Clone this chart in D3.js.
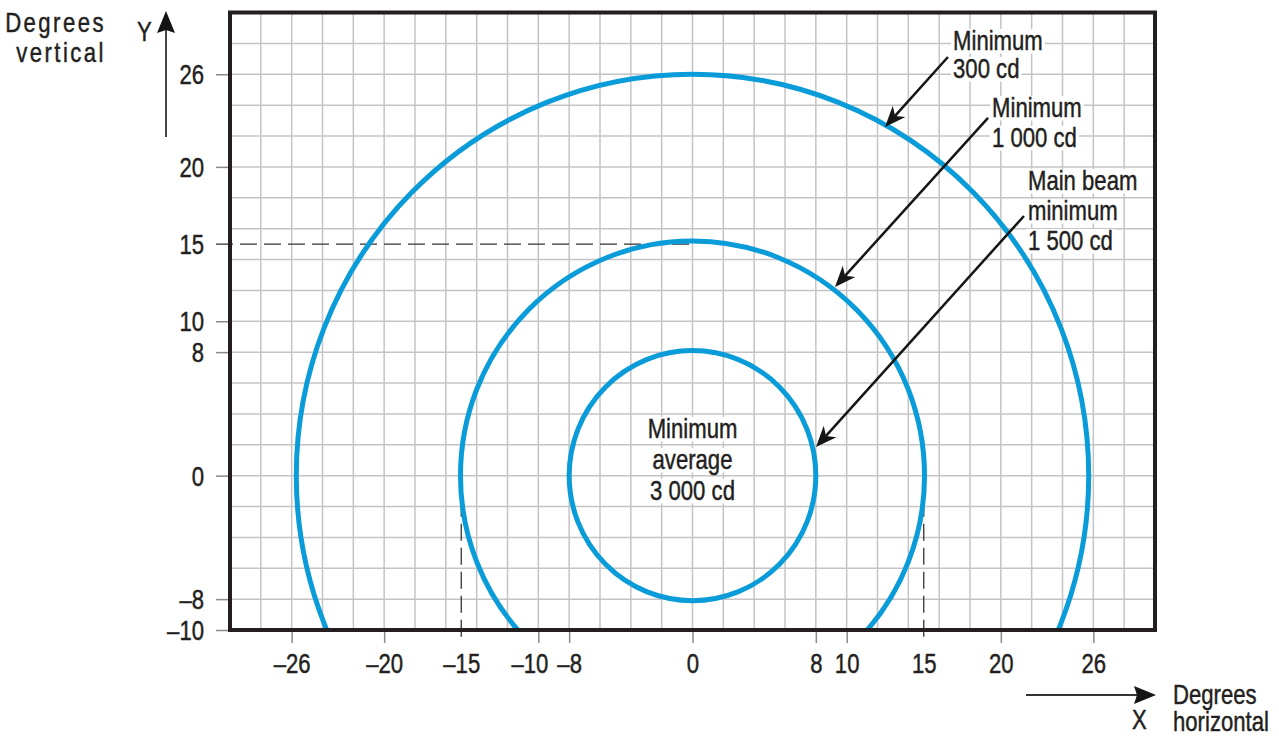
<!DOCTYPE html>
<html>
<head>
<meta charset="utf-8">
<script src="https://cdn.jsdelivr.net/npm/d3@7"></script>
<style>
  html, body { margin: 0; padding: 0; background: #fff; }
  svg { display: block; }
  text { font-family: "Liberation Sans", Arial, sans-serif; fill: #231f20; stroke: #231f20; stroke-width: 0.45px; }
</style>
</head>
<body>
<script>
// ---------- data ----------
const xDomain = [-30, 30];
const yDomain = [-10, 30];
const gridStep = 2;
const xTickValues = [-26, -20, -15, -10, -8, 0, 8, 10, 15, 20, 26];
const yTickValues = [26, 20, 15, 10, 8, 0, -8, -10];
const ringNames = ["Minimum 300 cd", "Minimum 1 000 cd", "Main beam minimum 1 500 cd"];
const ringRx = [25.7, 15.05, 8.0];   // horizontal half-width (degrees)
const ringRy = [26, 15.2, 8.1];      // vertical half-height (degrees)
const refLevel = 15;                 // dashed reference lines

const labelLines = [
  ["Minimum", "300 cd"],
  ["Minimum", "1 000 cd"],
  ["Main beam", "minimum", "1 500 cd"]
];
const labelAnchorX = [16.9, 19.43, 21.76];
const labelAnchorY = [27.57, 23.23, 18.5];
const arrowFromX = [16.57, 19.17, 21.5];
const arrowFromY = [27.12, 23.17, 16.82];
const arrowToX = [12.49, 9.24, 8.01];
const arrowToY = [22.58, 12.22, 1.85];
const centerLines = ["Minimum", "average", "3 000 cd"];
const centerAnchor = [0, 2.44];

// ---------- layout ----------
const W = 1279, H = 738;
const SX = 0.82;     // horizontal condensing of the sans font
const FS = 27;
const svg = d3.select("body").append("svg").attr("width", W).attr("height", H);

const x = d3.scaleLinear().domain(xDomain).range([230, 1155]);
const y = d3.scaleLinear().domain(yDomain).range([630, 12.5]);

const blue = "#0a9bd9";
const ink = "#231f20";
const gridCol = "#c4c4c6";

function ctext(parent, str, px, py, anchor, opts = {}) {
  const g = parent.append("g").attr("transform", `translate(${px},${py}) scale(${SX},1)`);
  const t = g.append("text").attr("x", 0).attr("y", 0).attr("font-size", FS)
    .attr("text-anchor", anchor || "start").text(str);
  if (opts.ls) t.attr("letter-spacing", opts.ls);
  if (opts.bg) {
    const bb = t.node().getBBox();
    g.insert("rect", "text").attr("x", bb.x - 2 / SX).attr("y", bb.y + 3)
      .attr("width", bb.width + 4 / SX).attr("height", bb.height - 5).attr("fill", "#fff");
  }
  return t;
}
function condenseTicks(sel, shift) {
  sel.each(function (d) {
    const t = d3.select(this);
    const tx = (+t.attr("x") || 0) + (shift ? shift(d) : 0), ty = +t.attr("y") || 0;
    t.attr("x", 0).attr("y", 0).attr("transform", `translate(${tx},${ty}) scale(${SX},1)`);
  });
}

// clip
svg.append("defs").append("clipPath").attr("id", "plotclip")
  .append("rect").attr("x", x(-30)).attr("y", y(30)).attr("width", x(30) - x(-30)).attr("height", y(-10) - y(30));

// grid
const gx = d3.range(xDomain[0] + gridStep, xDomain[1], gridStep);
const gy = d3.range(yDomain[0] + gridStep, yDomain[1], gridStep);
const grid = svg.append("g");
grid.selectAll(".vg").data(gx).join("line")
  .attr("x1", d => x(d)).attr("x2", d => x(d)).attr("y1", y(30)).attr("y2", y(-10))
  .attr("stroke", gridCol).attr("stroke-width", 1.5);
grid.selectAll(".hg").data(gy).join("line")
  .attr("y1", d => y(d)).attr("y2", d => y(d)).attr("x1", x(-30)).attr("x2", x(30))
  .attr("stroke", gridCol).attr("stroke-width", 1.5);

const fmt = d => d < 0 ? "\u2013" + Math.abs(d) : String(d);

// y axis
const yAxis = d3.axisLeft(y).tickValues(yTickValues).tickSize(14).tickPadding(12).tickFormat(fmt);
const yg = svg.append("g").attr("transform", `translate(${x(-30)},0)`).call(yAxis);
yg.select(".domain").remove();
yg.selectAll(".tick line").attr("stroke", "#8a8a8a").attr("stroke-width", 1.5)
  .attr("stroke-opacity", d => d === refLevel ? 0 : 1);
yg.selectAll(".tick text").attr("font-size", FS).attr("fill", ink)
  .style("font-family", '"Liberation Sans", Arial, sans-serif').attr("dy", "0.36em");
condenseTicks(yg.selectAll(".tick text"));

// x axis
const xAxis = d3.axisBottom(x).tickValues(xTickValues).tickSize(13).tickPadding(8).tickFormat(fmt);
const xg = svg.append("g").attr("transform", `translate(0,${y(-10)})`).call(xAxis);
xg.select(".domain").remove();
xg.selectAll(".tick line").attr("stroke", "#8a8a8a").attr("stroke-width", 1.5)
  .attr("stroke-opacity", d => Math.abs(d) === refLevel ? 0 : 1);
xg.selectAll(".tick text").attr("font-size", FS).attr("fill", ink)
  .style("font-family", '"Liberation Sans", Arial, sans-serif').attr("dy", "0.83em");
condenseTicks(xg.selectAll(".tick text"), d => d === -10 ? -9 : 0);

// dashed reference lines
const dash = svg.append("g").attr("stroke", "#333").attr("stroke-width", 1.3).attr("stroke-dasharray", "17,7").attr("fill", "none");
dash.append("line").attr("x1", x(-30) - 14).attr("x2", x(0)).attr("y1", y(refLevel)).attr("y2", y(refLevel));
[-refLevel, refLevel].forEach(v => {
  dash.append("line").attr("x1", x(v)).attr("x2", x(v)).attr("y1", y(0)).attr("y2", y(-10) + 13);
});

// rings
const rings = svg.append("g").attr("clip-path", "url(#plotclip)");
rings.selectAll("ellipse").data(ringNames).join("ellipse")
  .attr("cx", x(0)).attr("cy", y(0))
  .attr("rx", (d, i) => x(ringRx[i]) - x(0))
  .attr("ry", (d, i) => y(0) - y(ringRy[i]))
  .attr("fill", "none").attr("stroke", blue).attr("stroke-width", 5);

// frame
svg.append("rect").attr("x", x(-30)).attr("y", y(30)).attr("width", x(30) - x(-30)).attr("height", y(-10) - y(30))
  .attr("fill", "none").attr("stroke", ink).attr("stroke-width", 4);

function arrow(g, x1, y1, x2, y2) {
  const ang = Math.atan2(y2 - y1, x2 - x1);
  const L = 21, hw = 8.5, notch = 6;
  const bx = x2 - L * Math.cos(ang), by = y2 - L * Math.sin(ang);
  const nx = x2 - (L - notch) * Math.cos(ang), ny = y2 - (L - notch) * Math.sin(ang);
  const px = -Math.sin(ang), py = Math.cos(ang);
  g.append("line").attr("x1", x1).attr("y1", y1).attr("x2", nx).attr("y2", ny)
    .attr("stroke", "#151515").attr("stroke-width", 2.5);
  g.append("path").attr("d", `M${x2},${y2} L${bx + px * hw},${by + py * hw} L${nx},${ny} L${bx - px * hw},${by - py * hw} Z`)
    .attr("fill", "#151515");
}

// annotations
const ann = svg.append("g");
const labelLH = [28, 30, 30];
labelLines.forEach((lines, i) => {
  lines.forEach((t, j) => ctext(ann, t, x(labelAnchorX[i]), y(labelAnchorY[i]) + j * labelLH[i], "start", { bg: true }));
});
labelLines.forEach((lines, i) => {
  arrow(ann, x(arrowFromX[i]), y(arrowFromY[i]), x(arrowToX[i]), y(arrowToY[i]));
});
centerLines.forEach((t, j) => ctext(ann, t, x(centerAnchor[0]), y(centerAnchor[1]) + j * 31, "middle", { bg: true }));

// axis direction arrows & titles
const dir = svg.append("g");
dir.append("line").attr("x1", 166).attr("x2", 166).attr("y1", 137).attr("y2", 28).attr("stroke", "#333").attr("stroke-width", 1.8);
dir.append("path").attr("d", "M166,11 L157,33 L166,30 L175,33 Z").attr("fill", "#151515");
ctext(dir, "Y", 137, 41, "start");
ctext(dir, "Degrees", 106, 32, "end", { ls: 3 });
ctext(dir, "vertical", 106, 62, "end", { ls: 3 });

dir.append("line").attr("x1", 1026).attr("x2", 1138).attr("y1", 695).attr("y2", 695).attr("stroke", "#333").attr("stroke-width", 1.8);
dir.append("path").attr("d", "M1156,695 L1134,686 L1137,695 L1134,704 Z").attr("fill", "#151515");
ctext(dir, "X", 1132, 729, "start");
ctext(dir, "Degrees", 1173, 704, "start");
ctext(dir, "horizontal", 1173, 731, "start");
</script>
</body>
</html>
